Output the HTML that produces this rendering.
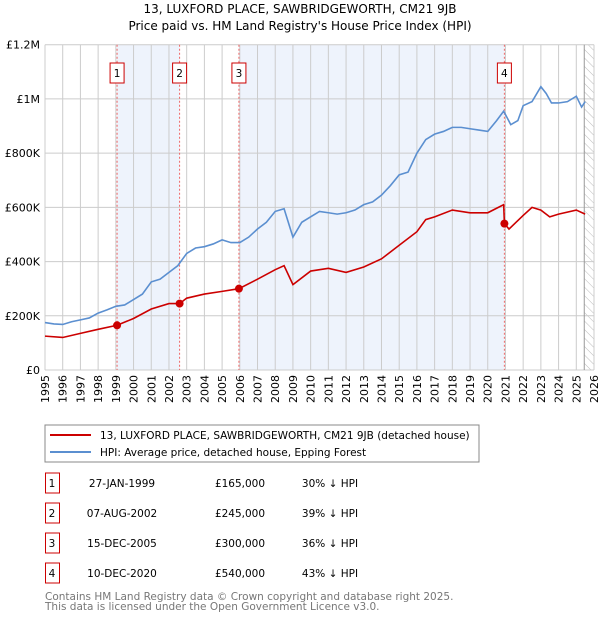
<!DOCTYPE html>
<html><head><meta charset="utf-8"><style>
body{margin:0;background:#fff;font-family:"DejaVu Sans","Liberation Sans",sans-serif;}
svg text{font-family:"DejaVu Sans","Liberation Sans",sans-serif;}
.xl{font-size:11px;}
</style></head><body>
<svg id="c" width="600" height="620" xmlns="http://www.w3.org/2000/svg">
<defs><pattern id="hatch" width="6" height="6" patternUnits="userSpaceOnUse" patternTransform="rotate(-45)"><line x1="0" y1="0" x2="0" y2="6" stroke="#bbb" stroke-width="1"/></pattern></defs>
<text x="300" y="13" text-anchor="middle" font-size="12">13, LUXFORD PLACE, SAWBRIDGEWORTH, CM21 9JB</text>
<text x="300" y="30" text-anchor="middle" font-size="12">Price paid vs. HM Land Registry's House Price Index (HPI)</text>
<g id="plot"></g>
<g id="xlabels">
<text class="xl" text-anchor="end" transform="translate(49,375) rotate(-90)">1995</text>
<text class="xl" text-anchor="end" transform="translate(66.7,375) rotate(-90)">1996</text>
<text class="xl" text-anchor="end" transform="translate(84.4,375) rotate(-90)">1997</text>
<text class="xl" text-anchor="end" transform="translate(102.1,375) rotate(-90)">1998</text>
<text class="xl" text-anchor="end" transform="translate(119.8,375) rotate(-90)">1999</text>
<text class="xl" text-anchor="end" transform="translate(137.5,375) rotate(-90)">2000</text>
<text class="xl" text-anchor="end" transform="translate(155.3,375) rotate(-90)">2001</text>
<text class="xl" text-anchor="end" transform="translate(173,375) rotate(-90)">2002</text>
<text class="xl" text-anchor="end" transform="translate(190.7,375) rotate(-90)">2003</text>
<text class="xl" text-anchor="end" transform="translate(208.4,375) rotate(-90)">2004</text>
<text class="xl" text-anchor="end" transform="translate(226.1,375) rotate(-90)">2005</text>
<text class="xl" text-anchor="end" transform="translate(243.8,375) rotate(-90)">2006</text>
<text class="xl" text-anchor="end" transform="translate(261.5,375) rotate(-90)">2007</text>
<text class="xl" text-anchor="end" transform="translate(279.2,375) rotate(-90)">2008</text>
<text class="xl" text-anchor="end" transform="translate(296.9,375) rotate(-90)">2009</text>
<text class="xl" text-anchor="end" transform="translate(314.6,375) rotate(-90)">2010</text>
<text class="xl" text-anchor="end" transform="translate(332.4,375) rotate(-90)">2011</text>
<text class="xl" text-anchor="end" transform="translate(350.1,375) rotate(-90)">2012</text>
<text class="xl" text-anchor="end" transform="translate(367.8,375) rotate(-90)">2013</text>
<text class="xl" text-anchor="end" transform="translate(385.5,375) rotate(-90)">2014</text>
<text class="xl" text-anchor="end" transform="translate(403.2,375) rotate(-90)">2015</text>
<text class="xl" text-anchor="end" transform="translate(420.9,375) rotate(-90)">2016</text>
<text class="xl" text-anchor="end" transform="translate(438.6,375) rotate(-90)">2017</text>
<text class="xl" text-anchor="end" transform="translate(456.3,375) rotate(-90)">2018</text>
<text class="xl" text-anchor="end" transform="translate(474,375) rotate(-90)">2019</text>
<text class="xl" text-anchor="end" transform="translate(491.7,375) rotate(-90)">2020</text>
<text class="xl" text-anchor="end" transform="translate(509.5,375) rotate(-90)">2021</text>
<text class="xl" text-anchor="end" transform="translate(527.2,375) rotate(-90)">2022</text>
<text class="xl" text-anchor="end" transform="translate(544.9,375) rotate(-90)">2023</text>
<text class="xl" text-anchor="end" transform="translate(562.6,375) rotate(-90)">2024</text>
<text class="xl" text-anchor="end" transform="translate(580.3,375) rotate(-90)">2025</text>
<text class="xl" text-anchor="end" transform="translate(598,375) rotate(-90)">2026</text>
</g>
<rect x="45" y="425" width="434" height="37" fill="#fff" stroke="#888"/>
<line x1="50" y1="435" x2="91" y2="435" stroke="#cc0000" stroke-width="2"/>
<text x="100" y="439" font-size="10.5">13, LUXFORD PLACE, SAWBRIDGEWORTH, CM21 9JB (detached house)</text>
<line x1="50" y1="452" x2="91" y2="452" stroke="#5b8fd0" stroke-width="2"/>
<text x="100" y="456" font-size="10.5">HPI: Average price, detached house, Epping Forest</text>
<g id="table" font-size="10.5"></g>
<text x="45" y="600" font-size="10.5" fill="#777">Contains HM Land Registry data © Crown copyright and database right 2025.</text>
<text x="45" y="610" font-size="10.5" fill="#777">This data is licensed under the Open Government Licence v3.0.</text>
</svg>
<script>
const years=[1995,1996,1997,1998,1999,2000,2001,2002,2003,2004,2005,2006,2007,2008,2009,2010,2011,2012,2013,2014,2015,2016,2017,2018,2019,2020,2021,2022,2023,2024,2025,2026];
const yTicks=[0,200000,400000,600000,800000,1000000,1200000];
const yTickLabels=["£0","£200K","£400K","£600K","£800K","£1M","£1.2M"];
const hpiT=[1995,1995.5,1996,1996.5,1997,1997.5,1998,1998.5,1999,1999.5,2000,2000.5,2001,2001.5,2002,2002.5,2003,2003.5,2004,2004.5,2005,2005.5,2006,2006.5,2007,2007.5,2008,2008.5,2009,2009.5,2010,2010.5,2011,2011.5,2012,2012.5,2013,2013.5,2014,2014.5,2015,2015.5,2016,2016.5,2017,2017.5,2018,2018.5,2019,2019.5,2020,2020.5,2020.9,2021.3,2021.7,2022,2022.5,2023,2023.3,2023.6,2024,2024.5,2025,2025.3,2025.5];
const hpiV=[175,170,168,178,185,192,210,222,235,240,260,280,325,335,360,385,430,450,455,465,480,470,470,490,520,545,585,595,490,545,565,585,580,575,580,590,610,620,645,680,720,730,800,850,870,880,895,895,890,885,880,920,955,905,920,975,990,1045,1020,985,985,990,1010,970,990];
const ppT=[1995,1996,1997,1998,1999.07,2000,2001,2002,2002.6,2003,2004,2005,2005.95,2007,2008,2008.5,2009,2010,2011,2012,2013,2014,2015,2016,2016.5,2017,2018,2019,2020,2020.9,2020.94,2021.2,2022,2022.5,2023,2023.5,2024,2025,2025.5];
const ppV=[125,120,135,150,165,190,225,245,245,265,280,290,300,335,370,385,315,365,375,360,380,410,460,510,555,565,590,580,580,610,540,520,570,600,590,565,575,590,575];
const saleT=[1999.07,2002.6,2005.95,2020.94];
const saleV=[165000,245000,300000,540000];
const saleLabels=["1","2","3","4"];
const saleDates=["27-JAN-1999","07-AUG-2002","15-DEC-2005","10-DEC-2020"];
const salePrices=["£165,000","£245,000","£300,000","£540,000"];
const saleDiffs=["30% ↓ HPI","39% ↓ HPI","36% ↓ HPI","43% ↓ HPI"];

const NS="http://www.w3.org/2000/svg";
const X0=45,X1=594,Y0=370,Y1=44.7;
const xs=t=>X0+(t-1995)/(2026-1995)*(X1-X0);
const ys=v=>Y0-v/1200000*(Y0-Y1);
function mk(tag,attrs,parent){const e=document.createElementNS(NS,tag);for(const k in attrs)e.setAttribute(k,attrs[k]);parent.appendChild(e);return e;}
const g=document.getElementById('plot');
for(const [a,b] of [[0,1],[2,3]]){
 const r=mk('rect',{x:xs(saleT[a]),y:Y1,width:xs(saleT[b])-xs(saleT[a]),height:Y0-Y1,fill:'#eef3fc'},g);
 
 
}
const hx=xs(2025.45);
const h=mk('rect',{x:hx,y:Y1,width:X1-hx,height:Y0-Y1,fill:'url(#hatch)'},g);


years.forEach(y=>{
 const l=mk('line',{x1:xs(y),x2:xs(y),y1:Y1,y2:Y0,stroke:'#ccc'},g);
 
 
});
yTicks.forEach((v,i)=>{
 const l=mk('line',{x1:X0,x2:X1,y1:ys(v),y2:ys(v),stroke:'#ccc'},g);
 
 
 const t=mk('text',{x:X0-5,y:ys(v)+4,'text-anchor':'end','font-size':'11'},g);
 t.textContent=yTickLabels[i];
 
 
});
mk('line',{x1:hx,x2:hx,y1:Y1,y2:Y0,stroke:'#999'},g);
saleT.forEach((t,i)=>{
 const l=mk('line',{x1:xs(t),x2:xs(t),y1:Y1,y2:Y0,stroke:'#e66','stroke-dasharray':'2,2'},g);
 
 
 const r=mk('rect',{x:xs(t)-7,y:63,width:14,height:20,fill:'#fff',stroke:'#c00'},g);
 
 
 const tx=mk('text',{x:xs(t),y:77,'text-anchor':'middle','font-size':'10.5'},g);
 tx.textContent=saleLabels[i];
 
 
});
const line=(T,V,col,name)=>{
 const p=mk('polyline',{points:T.map((t,i)=>xs(t)+','+ys(V[i]*1000)).join(' '),fill:'none',stroke:col,'stroke-width':1.6},g);
 
 
};
line(hpiT,hpiV,'#5b8fd0','hpi-line');
line(ppT,ppV,'#cc0000','property-line');
saleT.forEach((t,i)=>{
 const c=mk('circle',{cx:xs(t),cy:ys(saleV[i]),r:4,fill:'#cc0000'},g);
 
 
});
const tb=document.getElementById('table');
saleLabels.forEach((s,i)=>{
 const y=483+i*30;
 const r=mk('rect',{x:45.5,y:y-10,width:14,height:20,fill:'#fff',stroke:'#c00'},tb);
 
 
 const cells=[[52,s],[122,saleDates[i]],[240,salePrices[i]],[330,saleDiffs[i]]];
 cells.forEach(c=>{const t=mk('text',{x:c[0],y:y+4,'text-anchor':'middle'},tb);t.textContent=c[1];
  
  });
});
</script>
</body></html>
